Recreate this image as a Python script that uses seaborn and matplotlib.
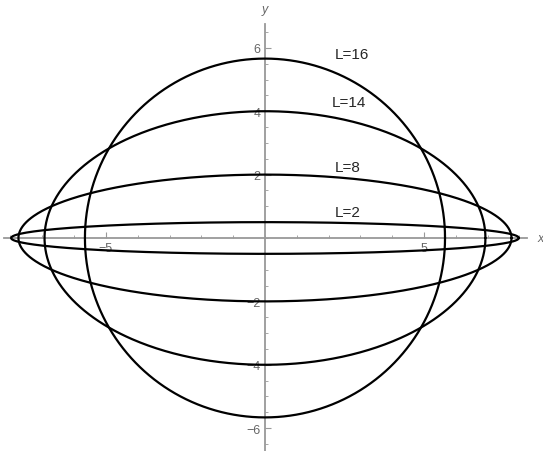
import numpy as np
import pandas as pd
import matplotlib
matplotlib.use("Agg")
import matplotlib.pyplot as plt
import seaborn as sns

# ellipse semi-axes
labels = ["L=2", "L=8", "L=14", "L=16"]
semi_x = [7.98, 7.75, 6.93, 5.66]
semi_y = [0.5, 2.0, 4.0, 5.66]
label_x = [2.6, 2.6, 2.65, 2.72]
label_y = [0.82, 2.24, 4.29, 5.8]

sns.set_style("white")
plt.rcParams['font.family'] = ['Liberation Sans', 'DejaVu Sans']

t = np.linspace(0, 2 * np.pi, 721)
frames = []
for lab, a, b in zip(labels, semi_x, semi_y):
    frames.append(pd.DataFrame({'x': a * np.cos(t), 'y': b * np.sin(t), 'L': lab}))
df = pd.concat(frames, ignore_index=True)

fig = plt.figure(figsize=(5.43, 4.52), dpi=100)
ax = fig.add_axes([0, 0, 1, 1])

sns.lineplot(data=df, x='x', y='y', units='L', estimator=None, sort=False,
             color='black', lw=1.6, ax=ax, legend=False)

for lab, lx, ly in zip(labels, label_x, label_y):
    ax.text(lx, ly, lab, fontsize=11, ha='center', va='center')

ax.set_xlim(-8.33, 8.74)
ax.set_ylim(-6.72, 7.54)

gray = '#999999'
for s in ['top', 'right']:
    ax.spines[s].set_visible(False)
ax.spines['left'].set_position('zero')
ax.spines['bottom'].set_position('zero')
ax.spines['left'].set_bounds(-6.75, 6.75)
ax.spines['bottom'].set_bounds(-8.2, 8.25)
for s in ['left', 'bottom']:
    ax.spines[s].set_color(gray)
    ax.spines[s].set_linewidth(1.3)
    ax.spines[s].set_zorder(0)

ax.set_xticks([-5, 5])
ax.set_xticklabels(['\u22125', '5'])
ax.set_xticks(np.arange(-8, 9, 1), minor=True)
ax.set_yticks([-6, -4, -2, 2, 4, 6])
ax.set_yticklabels(['\u22126', '\u22124', '\u22122', '2', '4', '6'])
ax.set_yticks(np.arange(-6.5, 7.0, 0.5), minor=True)
ax.tick_params(which='major', direction='in', length=4, width=0.8, color=gray,
               labelcolor='#666666', labelsize=9, pad=3)
ax.tick_params(which='minor', direction='in', length=2.5, width=0.6, color=gray)
ax.tick_params(axis='x', which='both', bottom=True)
ax.tick_params(axis='y', which='both', left=True)
ax.set_xlabel('')
ax.set_ylabel('')

ax.text(8.65, 0, 'x', fontsize=9, style='italic', color='#666666', ha='center', va='center')
ax.text(0, 7.22, 'y', fontsize=9, style='italic', color='#666666', ha='center', va='center')

fig.savefig('out.png', dpi=100)
